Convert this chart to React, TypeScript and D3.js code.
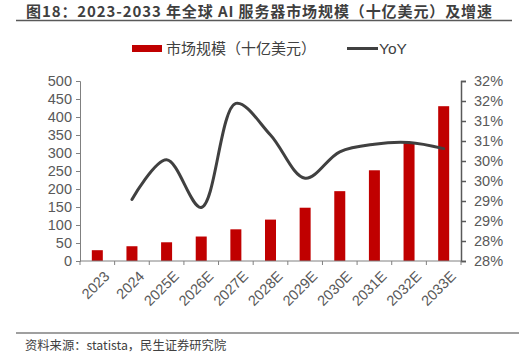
import * as d3 from "d3";
import { useEffect, useRef } from "react";

const categories = ["2023", "2024", "2025E", "2026E", "2027E", "2028E", "2029E", "2030E", "2031E", "2032E", "2033E"];
const marketSize = [30, 41, 52, 68, 88, 115, 148, 194, 252, 329, 430];
const yoy = [null, 29.04, 30.03, 28.84, 31.44, 30.65, 29.57, 30.23, 30.42, 30.46, 30.31];
const leftTicks = [0, 50, 100, 150, 200, 250, 300, 350, 400, 450, 500];
const rightTicks = [27.5, 28, 28.5, 29, 29.5, 30, 30.5, 31, 31.5, 32];

const FONT = "'Noto Sans CJK SC', 'Noto Sans', sans-serif";
const AXIS_FONT = "'Liberation Sans', Arial, sans-serif";

const App = () => {
  const ref = useRef<SVGSVGElement>(null);

  useEffect(() => {
    const svg = d3.select(ref.current);
    svg.selectAll("*").remove();

    const left = 80, right = 461, top = 81, bottom = 261;

    // title
    svg.append("text")
      .attr("x", 26).attr("y", 16.5)
      .attr("font-family", FONT).attr("font-weight", "bold")
      .attr("font-size", 15).attr("fill", "#3f3f3f")
      .attr("textLength", 466).attr("lengthAdjust", "spacing")
      .text("图18：2023-2033 年全球 AI 服务器市场规模（十亿美元）及增速");
    svg.append("line")
      .attr("x1", 16).attr("x2", 512).attr("y1", 20.5).attr("y2", 20.5)
      .attr("stroke", "#595959").attr("stroke-width", 1.5);

    // legend
    svg.append("rect").attr("x", 132).attr("y", 45).attr("width", 30).attr("height", 7).attr("fill", "#c00000");
    svg.append("text").attr("x", 166).attr("y", 54)
      .attr("font-family", FONT).attr("font-size", 15).attr("fill", "#404040")
      .text("市场规模（十亿美元）");
    svg.append("line").attr("x1", 347).attr("x2", 378).attr("y1", 48.5).attr("y2", 48.5)
      .attr("stroke", "#404040").attr("stroke-width", 3);
    svg.append("text").attr("x", 379).attr("y", 54)
      .attr("font-family", AXIS_FONT).attr("font-size", 15.5).attr("fill", "#404040")
      .text("YoY");

    const xb = d3.scaleBand().domain(categories).range([left, right]);
    const y = d3.scaleLinear().domain([0, 500]).range([bottom, top]);
    const y2 = d3.scaleLinear().domain([27.5, 32]).range([bottom, top]);

    // left axis
    const gl = svg.append("g").attr("transform", `translate(${left},0)`)
      .call(d3.axisLeft(y).tickValues(leftTicks).tickSize(4).tickPadding(4));
    gl.selectAll("path, line").attr("stroke", "#808080");
    gl.selectAll("text").attr("font-family", AXIS_FONT).attr("font-size", 14.5).attr("fill", "#595959");

    // right axis
    const gr = svg.append("g").attr("transform", `translate(${right},0)`)
      .call(d3.axisRight(y2).tickValues(rightTicks).tickSize(5).tickPadding(8)
        .tickFormat((d) => `${Math.round(+d + 0.0001)}%`));
    gr.selectAll("path, line").attr("stroke", "#595959").attr("stroke-width", 1.5);
    gr.selectAll("text").attr("font-family", AXIS_FONT).attr("font-size", 14.5).attr("fill", "#595959");

    // bars
    const bw = 11;
    svg.append("g").selectAll("rect").data(marketSize).join("rect")
      .attr("x", (_, i) => xb(categories[i])! + xb.bandwidth() / 2 - bw / 2)
      .attr("y", (d) => y(d))
      .attr("width", bw)
      .attr("height", (d) => bottom - y(d))
      .attr("fill", "#c00000");

    // x axis
    svg.append("line").attr("x1", left).attr("x2", right).attr("y1", bottom).attr("y2", bottom)
      .attr("stroke", "#808080");
    const bounds = categories.map((c) => xb(c)!).concat([right]);
    svg.append("g").selectAll("line").data(bounds).join("line")
      .attr("x1", (d) => d).attr("x2", (d) => d)
      .attr("y1", bottom).attr("y2", bottom + 4)
      .attr("stroke", "#808080");
    svg.append("g").selectAll("text").data(categories).join("text")
      .attr("transform", (d) => `translate(${xb(d)! + xb.bandwidth() / 2 + 6},${bottom + 9}) rotate(-45)`)
      .attr("text-anchor", "end")
      .attr("dy", "0.7em")
      .attr("font-family", AXIS_FONT).attr("font-size", 14.5).attr("fill", "#595959")
      .text((d) => d);

    // YoY line
    const pts = yoy.map((v, i) => ({ c: categories[i], v })).filter((p) => p.v !== null) as { c: string; v: number }[];
    const line = d3.line<{ c: string; v: number }>()
      .x((d) => xb(d.c)! + xb.bandwidth() / 2)
      .y((d) => y2(d.v))
      .curve(d3.curveCatmullRom.alpha(0.5));
    svg.append("path").datum(pts).attr("d", line)
      .attr("fill", "none").attr("stroke", "#404040").attr("stroke-width", 3).attr("stroke-linecap", "round");

    // footer
    svg.append("line").attr("x1", 16).attr("x2", 519).attr("y1", 333).attr("y2", 333)
      .attr("stroke", "#7f7f7f").attr("stroke-width", 1.5);
    svg.append("text").attr("x", 25).attr("y", 350)
      .attr("font-family", FONT).attr("font-size", 12.3).attr("fill", "#404040")
      .text("资料来源：statista，民生证券研究院");
  }, []);

  return (
    <svg ref={ref} width={530} height={359} style={{ position: "absolute", left: 0, top: 0, background: "#fff" }} />
  );
};

export default App;
